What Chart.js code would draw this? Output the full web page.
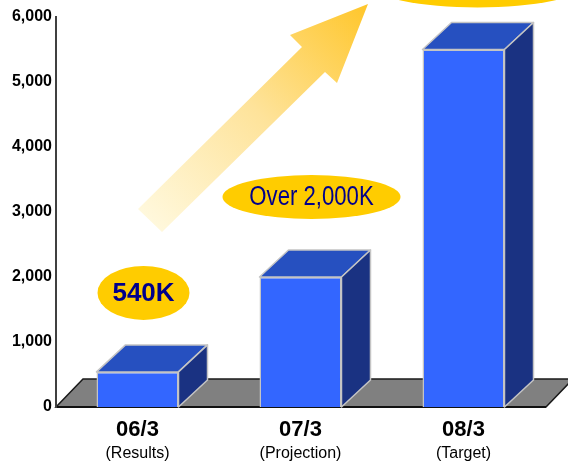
<!DOCTYPE html>
<html>
<head>
<meta charset="utf-8">
<script src="https://cdn.jsdelivr.net/npm/chart.js@4/dist/chart.umd.min.js"></script>
<style>
  html, body { margin: 0; padding: 0; background: #ffffff; }
  canvas { display: block; }
</style>
</head>
<body>
<canvas id="chart" width="568" height="463"></canvas>
<script>
// Fiscal periods, their notes and the subscriber counts (thousands)
const periods = ['06/3', '07/3', '08/3'];
const periodNotes = ['(Results)', '(Projection)', '(Target)'];
const subscribers = [540, 2000, 5500];
const calloutTexts = ['540K', 'Over 2,000K', ''];
const yTickValues = [0, 1000, 2000, 3000, 4000, 5000, 6000];

const FONT = '"Liberation Sans", Arial, Helvetica, sans-serif';
const FRONT = '#3366ff';
const TOP = '#2650c0';
const SIDE = '#1a3282';
const EDGE = '#c4c4c4';
const BOX_DEPTH = { dx: 29, dy: -27 };
const FLOOR_DEPTH = { dx: 27, dy: -28 };

// Grey perspective floor behind the bars
const floorPlugin = {
  id: 'floor',
  beforeDraw(chart) {
    const { ctx, chartArea: a } = chart;
    ctx.save();
    ctx.beginPath();
    ctx.moveTo(a.left, a.bottom);
    ctx.lineTo(a.right + 1, a.bottom);
    ctx.lineTo(a.right + 1 + FLOOR_DEPTH.dx, a.bottom + FLOOR_DEPTH.dy);
    ctx.lineTo(a.left + FLOOR_DEPTH.dx, a.bottom + FLOOR_DEPTH.dy);
    ctx.closePath();
    ctx.fillStyle = '#808080';
    ctx.fill();
    ctx.strokeStyle = '#1a1a1a';
    ctx.lineWidth = 1.5;
    ctx.stroke();
    ctx.restore();
  }
};

// Rising growth arrow with a pale-to-gold gradient
const arrowPlugin = {
  id: 'growthArrow',
  beforeDatasetsDraw(chart) {
    const { ctx, chartArea: a } = chart;
    const ox = a.left, oy = a.bottom;
    const pts = [
      [82, -198],   // tail, upper corner
      [246, -360],  // shaft meets head (upper)
      [234, -372],  // head, left barb
      [312, -403],  // tip
      [281, -324],  // head, right barb
      [269, -335],  // shaft meets head (lower)
      [106, -175]   // tail, lower corner
    ];
    const g = ctx.createLinearGradient(ox + 94, oy - 186, ox + 312, oy - 403);
    g.addColorStop(0, '#fff8dc');
    g.addColorStop(0.5, '#fee39a');
    g.addColorStop(1, '#ffc62a');
    ctx.save();
    ctx.beginPath();
    pts.forEach(([x, y], i) => (i ? ctx.lineTo(ox + x, oy + y) : ctx.moveTo(ox + x, oy + y)));
    ctx.closePath();
    ctx.fillStyle = g;
    ctx.fill();
    ctx.restore();
  }
};

// Top and side faces that turn each bar into a box
const boxPlugin = {
  id: 'boxFaces',
  afterDatasetsDraw(chart) {
    const { ctx } = chart;
    const meta = chart.getDatasetMeta(0);
    ctx.save();
    ctx.lineWidth = 1.5;
    ctx.strokeStyle = EDGE;
    ctx.lineJoin = 'round';
    meta.data.forEach(bar => {
      const { x, y, base, width } = bar.getProps(['x', 'y', 'base', 'width'], true);
      const l = x - width / 2, r = x + width / 2;
      const { dx, dy } = BOX_DEPTH;
      // top face
      ctx.beginPath();
      ctx.moveTo(l, y);
      ctx.lineTo(r, y);
      ctx.lineTo(r + dx, y + dy);
      ctx.lineTo(l + dx, y + dy);
      ctx.closePath();
      ctx.fillStyle = TOP;
      ctx.fill();
      ctx.stroke();
      // side face
      ctx.beginPath();
      ctx.moveTo(r, y);
      ctx.lineTo(r + dx, y + dy);
      ctx.lineTo(r + dx, base + dy);
      ctx.lineTo(r, base);
      ctx.closePath();
      ctx.fillStyle = SIDE;
      ctx.fill();
      ctx.stroke();
    });
    ctx.restore();
  }
};

// Yellow oval callouts above the bars
const calloutLayout = [
  { ox: 6, oy: -79, rx: 46, ry: 27, font: 'bold 26px ' + FONT, squeeze: 1 },
  { ox: 11, oy: -80, rx: 89, ry: 22, font: '27px ' + FONT, squeeze: 0.82 },
  { ox: 14, oy: -64, rx: 105, ry: 22, font: 'bold 26px ' + FONT, squeeze: 1 }
];
const calloutPlugin = {
  id: 'callouts',
  afterDatasetsDraw(chart) {
    const { ctx } = chart;
    const meta = chart.getDatasetMeta(0);
    meta.data.forEach((bar, i) => {
      const L = calloutLayout[i];
      const { x, y } = bar.getProps(['x', 'y'], true);
      const cx = x + L.ox, cy = y + L.oy;
      ctx.save();
      ctx.beginPath();
      ctx.ellipse(cx, cy, L.rx, L.ry, 0, 0, Math.PI * 2);
      ctx.fillStyle = '#ffcc00';
      ctx.fill();
      if (calloutTexts[i]) {
        ctx.translate(cx, cy);
        ctx.scale(L.squeeze, 1);
        ctx.font = L.font;
        ctx.fillStyle = '#00008b';
        ctx.textAlign = 'center';
        ctx.textBaseline = 'middle';
        ctx.fillText(calloutTexts[i], 0, 1);
      }
      ctx.restore();
    });
  }
};

new Chart(document.getElementById('chart'), {
  type: 'bar',
  data: {
    labels: periods,
    datasets: [{
      data: subscribers,
      backgroundColor: FRONT,
      borderColor: EDGE,
      borderWidth: 1.5,
      barPercentage: 0.503,
      categoryPercentage: 1
    }]
  },
  options: {
    responsive: false,
    animation: false,
    devicePixelRatio: 1,
    layout: { padding: { top: 17, right: 23, bottom: 0, left: 0 } },
    plugins: { legend: { display: false }, tooltip: { enabled: false } },
    scales: {
      x: {
        weight: 0,
        offset: true,
        grid: { display: false, drawTicks: false },
        border: { display: true, color: '#111111', width: 2 },
        ticks: { color: '#000000', padding: 10, font: { family: FONT, size: 22, weight: 'bold' } },
        afterFit(s) { s.height = 34; }
      },
      x2: {
        type: 'category',
        position: 'bottom',
        labels: periodNotes,
        weight: 1,
        offset: true,
        grid: { display: false, drawTicks: false },
        border: { display: false },
        ticks: { color: '#000000', padding: 3, font: { family: FONT, size: 16 } },
        afterFit(s) { s.height = 22; }
      },
      y: {
        min: 0,
        max: 6000,
        afterBuildTicks(s) { s.ticks = yTickValues.map(v => ({ value: v })); },
        grid: { display: false, drawTicks: false },
        border: { display: true, color: '#404040', width: 2 },
        ticks: {
          color: '#000000',
          padding: 4,
          font: { family: FONT, size: 16, weight: 'bold' },
          callback: v => Number(v).toLocaleString('en-US')
        },
        afterFit(s) { s.width = 56; }
      }
    }
  },
  plugins: [floorPlugin, arrowPlugin, boxPlugin, calloutPlugin]
});
</script>
</body>
</html>
